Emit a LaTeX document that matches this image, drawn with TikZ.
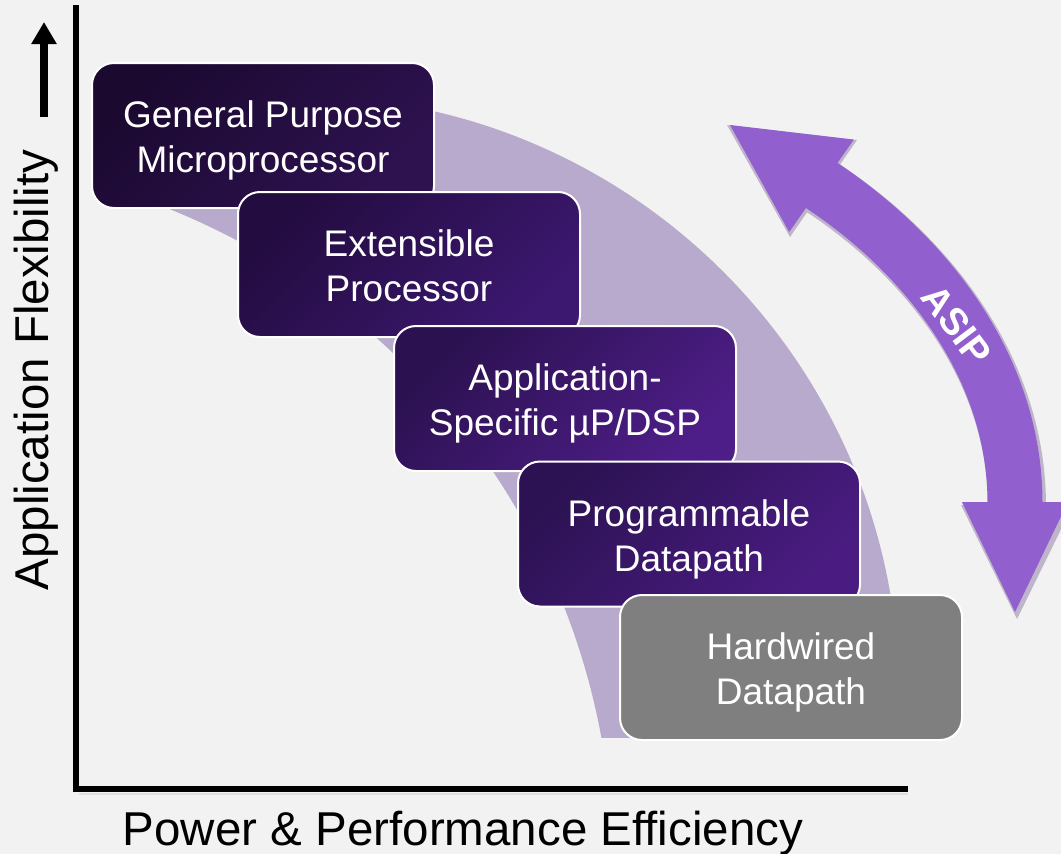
\documentclass[tikz,border=0pt]{standalone}
\usepackage{fontspec}
\setmainfont{Liberation Sans}
\usetikzlibrary{arrows.meta}

\definecolor{canvas}{HTML}{F2F2F2}
\definecolor{band}{RGB}{184,170,204}
\definecolor{asipcol}{RGB}{146,96,206}
\definecolor{asipshadow}{RGB}{70,40,110}
\definecolor{hwgray}{HTML}{7F7F7F}
\definecolor{aTop}{HTML}{1B0930}\definecolor{aBot}{HTML}{2E1250}
\definecolor{bTop}{HTML}{230C40}\definecolor{bBot}{HTML}{3C1870}
\definecolor{cTop}{HTML}{2B1150}\definecolor{cBot}{HTML}{4E1E88}
\definecolor{dTop}{HTML}{2C1253}\definecolor{dBot}{HTML}{4A1C82}

\tikzset{
  stage/.style={draw=white, line width=2pt, rounded corners=22pt,
    minimum width=342pt, minimum height=145pt, inner sep=0pt},
  purplestage/.style 2 args={stage, top color=#1, bottom color=#2, shading angle=45},
  stagetext/.style={text=white, align=center, inner sep=0pt,
    font=\fontsize{37}{45}\selectfont},
  axisline/.style={line width=6pt, black},
  axislabel/.style={font=\fontsize{47.5}{56}\selectfont, text=black, anchor=base, inner sep=0pt},
}
% keeps the last line of every stage label equally deep
\newcommand\lastline[1]{#1\vphantom{p}}

\begin{document}
\begin{tikzpicture}[x=1pt, y=-1pt]
  % canvas
  \fill[canvas] (0,0) rectangle (1061,854);
  \useasboundingbox (0,0) rectangle (1061,854);

  % light purple crescent band behind the stages
  \begin{scope}
    \clip (100,0) rectangle (1061,737);
    \clip (299,696) circle [radius=600];
    \fill[band, even odd rule] (-200,-200) rectangle (1300,1100)
      (-95,866) circle [radius=708];
  \end{scope}

  % axes
  \coordinate (ytop) at (76,5);
  \coordinate (origin) at (76,789);
  \coordinate (xend) at (908,789);
  \draw[line width=2pt, black!12] (79,794) -- (908,794);
  \draw[axisline, line join=miter] (ytop) -- (origin) -- (xend);

  % axis labels
  \node[axislabel] (xlab) at (463,845) {Power \& Performance Efficiency};
  \node[axislabel, rotate=90] (ylab) at (48,370) {Application Flexibility};
  \coordinate (yarrowfrom) at (44,117);
  \coordinate (yarrowto) at (44,22);
  \draw[line width=8pt, -{Triangle[width=24pt,length=22pt]}] (yarrowfrom) -- (yarrowto);

  % stages, each overlapping the previous one
  \node[purplestage={aTop}{aBot}] (gp) at (263,135.5) {};
  \node[stagetext] (gptext) at ([yshift=-5.4pt]gp.center)
    {General Purpose\\\lastline{Microprocessor}};
  \node[purplestage={bTop}{bBot}] (ext) at (409,264.5) {};
  \node[stagetext] (exttext) at ([yshift=-5.4pt]ext.center)
    {Extensible\\\lastline{Processor}};
  \node[purplestage={cTop}{cBot}] (asp) at (565,398.5) {};
  \node[stagetext] (asptext) at ([yshift=-5.4pt]asp.center)
    {Application-\\\lastline{Specific µP/DSP}};
  \node[purplestage={dTop}{dBot}] (pdp) at (689,534) {};
  \node[stagetext] (pdptext) at ([yshift=-5.4pt]pdp.center)
    {Programmable\\\lastline{Datapath}};
  \node[stage, fill=hwgray] (hdp) at (791,667.5) {};
  \node[stagetext] (hdptext) at ([yshift=-5.4pt]hdp.center)
    {Hardwired\\\lastline{Datapath}};

  % ASIP double arrow: soft shadow, then the arrow itself
  \begin{scope}[shift={(2,3)}, transparency group, opacity=0.3]
    \draw[line width=58pt, asipshadow] (821,185) .. controls (931,258) and (1015,371) .. (1015,503);
    \fill[asipshadow] (725,122) -- (855,137) -- (788,234) -- cycle;
    \fill[asipshadow] (959,502) -- (1071,502) -- (1015,616) -- cycle;
  \end{scope}
  \draw[line width=55pt, asipcol] (821,185) .. controls (931,258) and (1015,371) .. (1015,503);
  \fill[asipcol] (730,125) -- (853.8,139.6) -- (789.2,232) -- cycle;
  \fill[asipcol] (962,502) -- (1068,502) -- (1015,612) -- cycle;
  \node[text=white, font=\bfseries\fontsize{38}{40}\selectfont, rotate=-53] (asip) at (957,325) {ASIP};
\end{tikzpicture}
\end{document}
